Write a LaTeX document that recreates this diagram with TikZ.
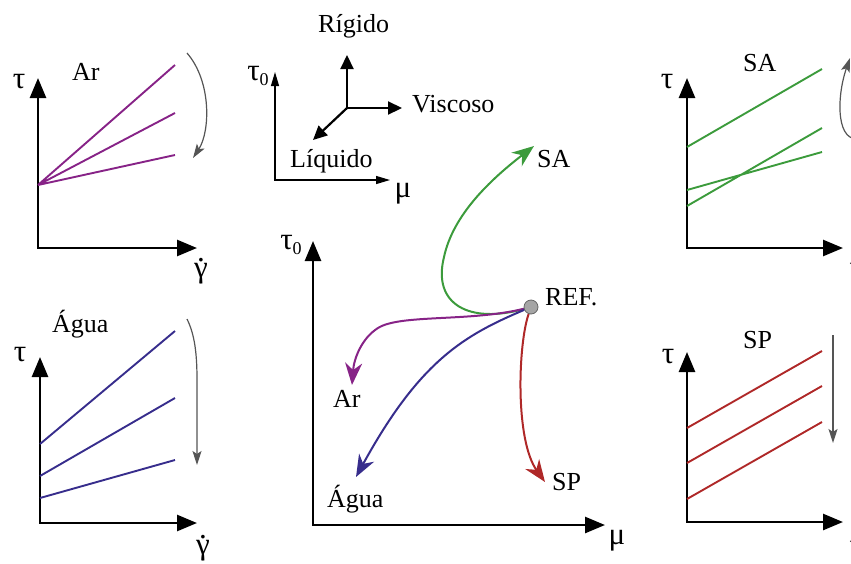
\documentclass[tikz,border=0pt]{standalone}
\usepackage{fontspec}
\setmainfont{Liberation Serif}
\usetikzlibrary{arrows.meta}
\definecolor{arp}{RGB}{135,35,135}
\definecolor{agb}{RGB}{55,45,140}
\definecolor{sag}{RGB}{60,155,60}
\definecolor{spr}{RGB}{175,40,40}
\definecolor{grarr}{RGB}{85,85,85}
\definecolor{refc}{RGB}{165,165,165}
\newcommand{\gdot}{\ooalign{γ\cr\hidewidth\raisebox{0.5em}{.}\hidewidth\cr}}
\newcommand{\tauzero}{τ\raisebox{-0.3ex}{\fontsize{18}{20}\selectfont 0}}
\begin{document}
\begin{tikzpicture}[x=1pt,y=-1pt,
  lbl/.style={font=\fontsize{26}{30}\selectfont, inner sep=0pt, anchor=base west},
  grk/.style={font=\fontsize{31}{34}\selectfont, inner sep=0pt},
  bigaxis/.style={line width=2.6pt, line join=miter,
    {Triangle[length=20pt,width=16pt]}-{Triangle[length=20pt,width=16pt]}},
  thinaxis/.style={line width=1.2pt, line join=miter,
    {Triangle[length=14pt,width=8pt]}-{Triangle[length=14pt,width=8pt]}},
  crossarr/.style={line width=2.2pt, -{Triangle[length=14pt,width=13pt]}},
  plotline/.style={line width=1.9pt},
  curvearr/.style={line width=2pt, -{Stealth[length=22pt,width=17pt,inset=7pt]}},
  grayarr/.style={line width=1.2pt, draw=grarr, -{Stealth[length=14pt,width=9pt,inset=3pt]}},
  refdot/.style={circle, fill=refc, draw=black!60, line width=0.8pt, minimum size=14pt, inner sep=0pt},
]
\useasboundingbox (0,0) rectangle (851,563);
\clip (0,0) rectangle (851,563);

% ---------- Panel Ar (top left) ----------
\coordinate (arY) at (38,78);
\coordinate (arX) at (197,248);
\draw[bigaxis] (arY) |- (arX);
\node[grk] (arTau) at (19,82) {τ};
\node[grk] (arGam) at (201,270) {\gdot};
\node[lbl] (arLbl) at (72,80) {Ar};
\coordinate (arO) at (38,185);
\coordinate (arE1) at (175,65);
\coordinate (arE2) at (175,113);
\coordinate (arE3) at (175,155);
\draw[plotline, draw=arp] (arO) -- (arE1) (arO) -- (arE2) (arO) -- (arE3);
\coordinate (arS) at (187,53);
\coordinate (arT) at (193,158);
\draw[grayarr] (arS) .. controls (212,82) and (210,132) .. (arT);

% ---------- Panel Agua (bottom left) ----------
\coordinate (agY) at (40,357);
\coordinate (agX) at (197,523);
\draw[bigaxis] (agY) |- (agX);
\node[grk] (agTau) at (20,355) {τ};
\node[grk] (agGam) at (203,547) {\gdot};
\node[lbl] (agLbl) at (52,332) {Água};
\coordinate (agO1) at (40,444);
\coordinate (agO2) at (40,476);
\coordinate (agO3) at (40,498);
\coordinate (agE1) at (175,331);
\coordinate (agE2) at (175,398);
\coordinate (agE3) at (175,460);
\draw[plotline, draw=agb] (agO1) -- (agE1) (agO2) -- (agE2) (agO3) -- (agE3);
\coordinate (agS) at (187,319);
\coordinate (agT) at (197,465);
\draw[grayarr] (agS) .. controls (195,335) and (197,355) .. (197,380) -- (agT);

% ---------- Panel SA (top right) ----------
\coordinate (saY) at (687,78);
\coordinate (saX) at (843,248);
\draw[bigaxis] (saY) |- (saX);
\node[grk] (saTau) at (667,82) {τ};
\node[grk] (saGam) at (857,270) {\gdot};
\node[lbl] (saLbl) at (743,71) {SA};
\coordinate (saO1) at (687,147);
\coordinate (saO2) at (687,206);
\coordinate (saO3) at (687,190);
\coordinate (saE1) at (822,69);
\coordinate (saE2) at (822,128);
\coordinate (saE3) at (822,152);
\draw[plotline, draw=sag] (saO1) -- (saE1) (saO2) -- (saE2) (saO3) -- (saE3);
\coordinate (saS) at (862,138);
\coordinate (saT) at (850,58);
\draw[grayarr] (saS) .. controls (836,146) and (836,98) .. (saT);

% ---------- Panel SP (bottom right) ----------
\coordinate (spY) at (687,352);
\coordinate (spX) at (843,522);
\draw[bigaxis] (spY) |- (spX);
\node[grk] (spTau) at (668,357) {τ};
\node[grk] (spGam) at (857,548) {\gdot};
\node[lbl] (spLbl) at (743,348) {SP};
\coordinate (spO1) at (687,428);
\coordinate (spO2) at (687,463);
\coordinate (spO3) at (687,499);
\coordinate (spE1) at (822,351);
\coordinate (spE2) at (822,386);
\coordinate (spE3) at (822,422);
\draw[plotline, draw=spr] (spO1) -- (spE1) (spO2) -- (spE2) (spO3) -- (spE3);
\coordinate (spS) at (833,335);
\coordinate (spT) at (833,443);
\draw[grayarr] (spS) -- (spT);

% ---------- Top legend ----------
\coordinate (lgY) at (275,72);
\coordinate (lgX) at (390,180);
\draw[thinaxis] (lgY) |- (lgX);
\node[grk] (lgTau) at (258,76) {\tauzero};
\node[grk] (lgMu) at (403,194) {μ};
\coordinate (cc) at (347,108);
\node[lbl] (rig) at (318,32) {Rígido};
\node[lbl] (vis) at (412,112) {Viscoso};
\node[lbl] (liq) at (290,167) {Líquido};
\coordinate (cUp) at (347,55);
\coordinate (cRt) at (402,108);
\coordinate (cDl) at (313,140);
\draw[crossarr] (cc) -- (cUp);
\draw[crossarr] (cc) -- (cRt);
\draw[crossarr] (cc) -- (cDl);

% ---------- Central chart ----------
\coordinate (cY) at (313,241);
\coordinate (cX) at (605,525);
\draw[bigaxis] (cY) |- (cX);
\node[grk] (cTau) at (291,245) {\tauzero};
\node[grk] (cMu) at (617,541) {μ};
\node[refdot] (ref) at (531,307) {};
\node[lbl] (refLbl) at (545,305) {REF.};
\node[lbl] (saC) at (537,167) {SA};
\node[lbl] (arC) at (333,407) {Ar};
\node[lbl] (agC) at (327,507) {Água};
\node[lbl] (spC) at (552,490) {SP};
\coordinate (saTip) at (534,146);
\coordinate (arTip) at (352,385);
\coordinate (agTip) at (356,477);
\coordinate (spTip) at (545,482);
\draw[curvearr, draw=sag] (ref) .. controls (470,324) and (432,305) .. (444,257)
   .. controls (453,215) and (490,180) .. (saTip);
\draw[curvearr, draw=arp] (ref) .. controls (470,322) and (400,314) .. (378,328)
   .. controls (362,338) and (354,358) .. (arTip);
\draw[curvearr, draw=agb] (ref) .. controls (465,335) and (420,360) .. (agTip);
\draw[curvearr, draw=spr] (ref) .. controls (518,345) and (515,440) .. (spTip);
\end{tikzpicture}
\end{document}
